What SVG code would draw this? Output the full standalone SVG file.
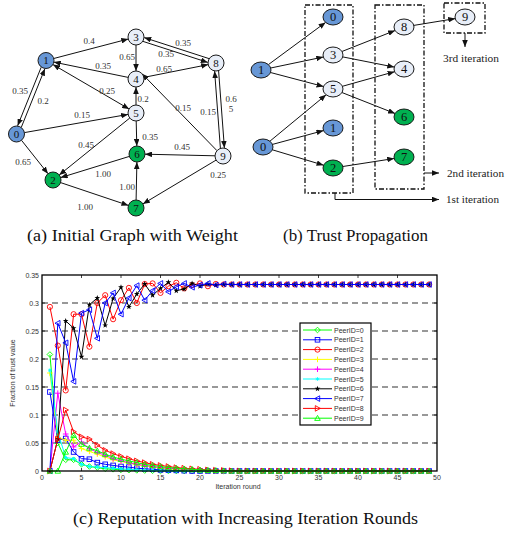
<svg xmlns="http://www.w3.org/2000/svg" width="505" height="535" viewBox="0 0 505 535">
<style>
.nd{stroke:#1a1a1a;stroke-width:1}
.bl{fill:#6797d6}
.gr{fill:#00b050}
.lt{fill:#e8eef8}
.nt{font-family:"Liberation Serif",serif;font-size:11px;text-anchor:middle;fill:#111}
.nt2{font-family:"Liberation Serif",serif;font-size:12.5px;text-anchor:middle;fill:#111}
.wl{font-family:"Liberation Serif",serif;font-size:9px;text-anchor:middle;fill:#333}
.e{stroke:#111;stroke-width:1;fill:none;marker-end:url(#ah)}
.e2{stroke:#111;stroke-width:1;fill:none;marker-end:url(#ah);marker-start:url(#ahs)}
.box{fill:none;stroke:#111;stroke-width:1.3;stroke-dasharray:5 2 1.5 2}
.it{font-family:"Liberation Serif",serif;font-size:10.5px;fill:#222}
.cap{font-family:"Liberation Serif",serif;font-size:17.5px;fill:#111}
.tk{font-family:"Liberation Sans",Arial,sans-serif;font-size:7px;fill:#333}
.grid{stroke:#777;stroke-width:1.3;stroke-dasharray:6 4}
.tick{stroke:#111;stroke-width:0.8}
.s{fill:none;stroke-width:1}
.lg{font-family:"Liberation Sans",Arial,sans-serif;font-size:7px;fill:#333}
</style>
<defs>
<marker id="ah" viewBox="0 0 10 8" refX="10" refY="4" markerWidth="7" markerHeight="5.6" orient="auto" markerUnits="userSpaceOnUse" preserveAspectRatio="none"><path d="M0,0L10,4L0,8Z" fill="#111"/></marker>
<marker id="ahs" viewBox="0 0 10 8" refX="10" refY="4" markerWidth="7" markerHeight="5.6" orient="auto-start-reverse" markerUnits="userSpaceOnUse" preserveAspectRatio="none"><path d="M0,0L10,4L0,8Z" fill="#111"/></marker>
<marker id="m0" viewBox="-5 -5 10 10" markerWidth="10" markerHeight="10" markerUnits="userSpaceOnUse" overflow="visible"><path d="M0,-2.8L2.8,0L0,2.8L-2.8,0Z" fill="none" stroke="#00ff00" stroke-width="0.9"/></marker>
<marker id="m1" viewBox="-5 -5 10 10" markerWidth="10" markerHeight="10" markerUnits="userSpaceOnUse" overflow="visible"><rect x="-2.3" y="-2.3" width="4.6" height="4.6" fill="none" stroke="#0000ff" stroke-width="0.9"/></marker>
<marker id="m2" viewBox="-5 -5 10 10" markerWidth="10" markerHeight="10" markerUnits="userSpaceOnUse" overflow="visible"><circle r="2.6" fill="none" stroke="#ff0000" stroke-width="0.9"/></marker>
<marker id="m3" viewBox="-5 -5 10 10" markerWidth="10" markerHeight="10" markerUnits="userSpaceOnUse" overflow="visible"><path d="M-2.8,0H2.8M0,-2.8V2.8" stroke="#ffff00" stroke-width="1"/></marker>
<marker id="m4" viewBox="-5 -5 10 10" markerWidth="10" markerHeight="10" markerUnits="userSpaceOnUse" overflow="visible"><path d="M-2.8,0H2.8M0,-2.8V2.8" stroke="#ff00ff" stroke-width="1"/></marker>
<marker id="m5" viewBox="-5 -5 10 10" markerWidth="10" markerHeight="10" markerUnits="userSpaceOnUse" overflow="visible"><path d="M-1.8,0H1.8M0,-1.8V1.8M-1.3,-1.3L1.3,1.3M-1.3,1.3L1.3,-1.3" stroke="#00ffff" stroke-width="0.9"/></marker>
<marker id="m6" viewBox="-5 -5 10 10" markerWidth="10" markerHeight="10" markerUnits="userSpaceOnUse" overflow="visible"><polygon points="0,-3 0.71,-0.97 2.85,-0.93 1.14,0.37 1.76,2.43 0,1.2 -1.76,2.43 -1.14,0.37 -2.85,-0.93 -0.71,-0.97" fill="#000"/></marker>
<marker id="m7" viewBox="-5 -5 10 10" markerWidth="10" markerHeight="10" markerUnits="userSpaceOnUse" overflow="visible"><path d="M-2.8,0L2.2,-2.8L2.2,2.8Z" fill="none" stroke="#0000ff" stroke-width="0.9"/></marker>
<marker id="m8" viewBox="-5 -5 10 10" markerWidth="10" markerHeight="10" markerUnits="userSpaceOnUse" overflow="visible"><path d="M2.8,0L-2.2,-2.8L-2.2,2.8Z" fill="none" stroke="#ff0000" stroke-width="0.9"/></marker>
<marker id="m9" viewBox="-5 -5 10 10" markerWidth="10" markerHeight="10" markerUnits="userSpaceOnUse" overflow="visible"><path d="M0,-2.8L2.8,2.2L-2.8,2.2Z" fill="none" stroke="#00ff00" stroke-width="0.9"/></marker>
</defs>
<rect width="505" height="535" fill="#fff"/>

<!-- Panel (a) connectors -->
<g id="edges-a">
<line class="e" x1="53.7" y1="58.5" x2="128.3" y2="39"/>
<line class="e" x1="128.2" y1="77.4" x2="53.8" y2="62.1"/>
<line class="e2" x1="52.9" y1="64.5" x2="129.1" y2="109"/>
<line class="e" x1="41.2" y1="67.2" x2="17.6" y2="125.8"/>
<line class="e" x1="21.3" y1="127.3" x2="44.9" y2="68.7"/>
<line class="e" x1="24.4" y1="132.6" x2="128.1" y2="114.4"/>
<line class="e" x1="21.5" y1="140.3" x2="48" y2="173.7"/>
<line class="e" x1="129.8" y1="118" x2="59.2" y2="175"/>
<line class="e" x1="129.4" y1="156.4" x2="60.6" y2="177.6"/>
<line class="e" x1="60.6" y1="182.6" x2="128.4" y2="205.4"/>
<line class="e" x1="136.1" y1="200" x2="136.9" y2="162"/>
<line class="e" x1="136.2" y1="121" x2="136.8" y2="146"/>
<line class="e" x1="215" y1="155.8" x2="145" y2="154.2"/>
<line class="e" x1="216.1" y1="160.1" x2="142.9" y2="203.9"/>
<line class="e" x1="217" y1="150.7" x2="142" y2="73.7"/>
<line class="e" x1="136" y1="105" x2="136" y2="87"/>
<line class="e" x1="136" y1="45" x2="136" y2="71"/>
<line class="e" x1="143.8" y1="77.4" x2="208.2" y2="64.6"/>
<line class="e" x1="209" y1="58.6" x2="144.2" y2="37.6"/>
<line class="e" x1="143" y1="41.4" x2="207.8" y2="62.4"/>
<line class="e" x1="220.4" y1="148.2" x2="214.6" y2="71.1"/>
<line class="e" x1="218.6" y1="70.8" x2="224.4" y2="147.9"/>
</g>
<g id="weights-a">
<text class="wl" x="89" y="44">0.4</text>
<text class="wl" x="103" y="69">0.35</text>
<text class="wl" x="107" y="94">0.25</text>
<text class="wl" x="20" y="94">0.35</text>
<text class="wl" x="43" y="104">0.2</text>
<text class="wl" x="82" y="118">0.15</text>
<text class="wl" x="127" y="60">0.65</text>
<text class="wl" x="183" y="46">0.35</text>
<text class="wl" x="166" y="57">0.35</text>
<text class="wl" x="164" y="72">0.65</text>
<text class="wl" x="143" y="102">0.2</text>
<text class="wl" x="183" y="111">0.15</text>
<text class="wl" x="208" y="115">0.15</text>
<text class="wl" x="231" y="102">0.6</text>
<text class="wl" x="231" y="112">5</text>
<text class="wl" x="86" y="148">0.45</text>
<text class="wl" x="23" y="165">0.65</text>
<text class="wl" x="103" y="177">1.00</text>
<text class="wl" x="85" y="210">1.00</text>
<text class="wl" x="150" y="140">0.35</text>
<text class="wl" x="182" y="150">0.45</text>
<text class="wl" x="218" y="178">0.25</text>
<text class="wl" x="127" y="190">1.00</text>
</g>
<g id="a-n0"><circle class="nd bl" cx="16.5" cy="134" r="8"/><text class="nt" x="16.5" y="137.8">0</text></g>
<g id="a-n1"><circle class="nd bl" cx="46" cy="60.5" r="8"/><text class="nt" x="46" y="64.3">1</text></g>
<g id="a-n2"><circle class="nd gr" cx="53" cy="180" r="8"/><text class="nt" x="53" y="183.8">2</text></g>
<g id="a-n3"><circle class="nd lt" cx="136" cy="37" r="8"/><text class="nt" x="136" y="40.8">3</text></g>
<g id="a-n4"><circle class="nd lt" cx="136" cy="79" r="8"/><text class="nt" x="136" y="82.8">4</text></g>
<g id="a-n5"><circle class="nd lt" cx="136" cy="113" r="8"/><text class="nt" x="136" y="116.8">5</text></g>
<g id="a-n6"><circle class="nd gr" cx="137" cy="154" r="8"/><text class="nt" x="137" y="157.8">6</text></g>
<g id="a-n7"><circle class="nd gr" cx="136" cy="208" r="8"/><text class="nt" x="136" y="211.8">7</text></g>
<g id="a-n8"><circle class="nd lt" cx="216" cy="63" r="8"/><text class="nt" x="216" y="66.8">8</text></g>
<g id="a-n9"><circle class="nd lt" cx="223" cy="156" r="8"/><text class="nt" x="223" y="159.8">9</text></g>

<!-- Panel (b) -->
<g id="boxes-b">
<rect class="box" x="305" y="5" width="48" height="188"/>
<rect class="box" x="375" y="5" width="49" height="184"/>
<rect class="box" x="444" y="3" width="41" height="30"/>
</g>
<g id="edges-b">
<line class="e" x1="268.4" y1="64.6" x2="325.6" y2="22.4"/>
<line class="e" x1="270.7" y1="68" x2="323.3" y2="57"/>
<line class="e" x1="270.5" y1="72.5" x2="323.5" y2="86.5"/>
<line class="e" x1="269.9" y1="141.2" x2="326.1" y2="94.8"/>
<line class="e" x1="272.5" y1="144.4" x2="323.5" y2="130.6"/>
<line class="e" x1="272.4" y1="149.8" x2="323.6" y2="165.2"/>
<line class="e" x1="341.9" y1="51.5" x2="395.1" y2="30.5"/>
<line class="e" x1="342.7" y1="56.9" x2="394.3" y2="67.1"/>
<line class="e" x1="342.4" y1="86.3" x2="394.6" y2="71.7"/>
<line class="e" x1="341.9" y1="92.5" x2="395.1" y2="113.5"/>
<line class="e" x1="342.8" y1="166.5" x2="394.2" y2="158.5"/>
<line class="e" x1="413.8" y1="25.4" x2="455.2" y2="18.6"/>
<line class="e" x1="465" y1="33" x2="465" y2="47"/>
<line class="e" x1="424" y1="173" x2="439" y2="173"/>
<polyline class="e" points="335,193 335,199.5 439,199.5"/>
</g>
<g id="b-n1"><ellipse class="nd bl" cx="261" cy="70" rx="10" ry="8"/><text class="nt2" x="261" y="74.3">1</text></g>
<g id="b-n0"><ellipse class="nd bl" cx="263" cy="147" rx="10" ry="8"/><text class="nt2" x="263" y="151.3">0</text></g>
<g id="b-c0"><ellipse class="nd bl" cx="333" cy="17" rx="10" ry="8"/><text class="nt2" x="333" y="21.3">0</text></g>
<g id="b-c3"><ellipse class="nd lt" cx="333" cy="55" rx="10" ry="8"/><text class="nt2" x="333" y="59.3">3</text></g>
<g id="b-c5"><ellipse class="nd lt" cx="333" cy="89" rx="10" ry="8"/><text class="nt2" x="333" y="93.3">5</text></g>
<g id="b-c1"><ellipse class="nd bl" cx="333" cy="128" rx="10" ry="8"/><text class="nt2" x="333" y="132.3">1</text></g>
<g id="b-c2"><ellipse class="nd gr" cx="333" cy="168" rx="10" ry="8"/><text class="nt2" x="333" y="172.3">2</text></g>
<g id="b-d8"><ellipse class="nd lt" cx="404" cy="27" rx="10" ry="8"/><text class="nt2" x="404" y="31.3">8</text></g>
<g id="b-d4"><ellipse class="nd lt" cx="404" cy="69" rx="10" ry="8"/><text class="nt2" x="404" y="73.3">4</text></g>
<g id="b-d6"><ellipse class="nd gr" cx="404" cy="117" rx="10" ry="8"/><text class="nt2" x="404" y="121.3">6</text></g>
<g id="b-d7"><ellipse class="nd gr" cx="404" cy="157" rx="10" ry="8"/><text class="nt2" x="404" y="161.3">7</text></g>
<g id="b-e9"><ellipse class="nd lt" cx="465" cy="17" rx="10" ry="8"/><text class="nt2" x="465" y="21.3">9</text></g>
<text class="it" x="443" y="61.5" textLength="56" lengthAdjust="spacingAndGlyphs">3rd iteration</text>
<text class="it" x="447" y="176.5" textLength="57" lengthAdjust="spacingAndGlyphs">2nd iteration</text>
<text class="it" x="446" y="203" textLength="53" lengthAdjust="spacingAndGlyphs">1st iteration</text>

<!-- captions -->
<text class="cap" x="27" y="241" textLength="211" lengthAdjust="spacingAndGlyphs">(a) Initial Graph with Weight</text>
<text class="cap" x="283" y="241" textLength="145" lengthAdjust="spacingAndGlyphs">(b) Trust Propagation</text>
<text class="cap" x="73" y="524" textLength="345" lengthAdjust="spacingAndGlyphs">(c) Reputation with Increasing Iteration Rounds</text>

<!-- Chart -->
<g id="grid">
<line class="grid" x1="42" y1="443" x2="437" y2="443"/>
<line class="grid" x1="42" y1="415" x2="437" y2="415"/>
<line class="grid" x1="42" y1="387" x2="437" y2="387"/>
<line class="grid" x1="42" y1="359" x2="437" y2="359"/>
<line class="grid" x1="42" y1="331" x2="437" y2="331"/>
<line class="grid" x1="42" y1="303" x2="437" y2="303"/>
</g>
<g id="ticks">
<path class="tick" d="M81.5,471v-3M121,471v-3M160.5,471v-3M200,471v-3M239.5,471v-3M279,471v-3M318.5,471v-3M358,471v-3M397.5,471v-3M81.5,275v3M121,275v3M160.5,275v3M200,275v3M239.5,275v3M279,275v3M318.5,275v3M358,275v3M397.5,275v3M42,443h3M42,415h3M42,387h3M42,359h3M42,331h3M42,303h3M437,443h-3M437,415h-3M437,387h-3M437,359h-3M437,331h-3M437,303h-3"/>
</g>
<g id="yticks" class="tk" text-anchor="end">
<text x="39" y="277.5">0.35</text>
<text x="39" y="305.5">0.3</text>
<text x="39" y="333.5">0.25</text>
<text x="39" y="361.5">0.2</text>
<text x="39" y="389.5">0.15</text>
<text x="39" y="417.5">0.1</text>
<text x="39" y="445.5">0.05</text>
<text x="39" y="473.5">0</text>
</g>
<g id="xticks" class="tk" text-anchor="middle">
<text x="42" y="480">0</text>
<text x="81.5" y="480">5</text>
<text x="121" y="480">10</text>
<text x="160.5" y="480">15</text>
<text x="200" y="480">20</text>
<text x="239.5" y="480">25</text>
<text x="279" y="480">30</text>
<text x="318.5" y="480">35</text>
<text x="358" y="480">40</text>
<text x="397.5" y="480">45</text>
<text x="437" y="480">50</text>
</g>
<text class="tk" x="238" y="489" text-anchor="middle" font-size="6.5">Iteration round</text>
<text class="tk" x="15" y="373" text-anchor="middle" font-size="6.5" transform="rotate(-90 15 373)">Fraction of trust value</text>

<g id="series">
<polyline class="s" stroke="#00ff00" marker-start="url(#m0)" marker-mid="url(#m0)" marker-end="url(#m0)" points="49.9,354.5 57.8,443 65.7,459.8 73.6,459.8 81.5,464.3 89.4,466.5 97.3,467.6 105.2,468.8 113.1,469.3 121,469.9 128.9,470.2 136.8,470.4 144.7,470.6 152.6,470.8 160.5,471 168.4,471 176.3,471 184.2,471 192.1,471 200,471 207.9,471 215.8,471 223.7,471 231.6,471 239.5,471 247.4,471 255.3,471 263.2,471 271.1,471 279,471 286.9,471 294.8,471 302.7,471 310.6,471 318.5,471 326.4,471 334.3,471 342.2,471 350.1,471 358,471 365.9,471 373.8,471 381.7,471 389.6,471 397.5,471 405.4,471 413.3,471 421.2,471 429.1,471"/>
<polyline class="s" stroke="#0000ff" marker-start="url(#m1)" marker-mid="url(#m1)" marker-end="url(#m1)" points="49.9,392 57.8,440.2 65.7,438.5 73.6,452 81.5,458.7 89.4,459.2 97.3,462.6 105.2,464.3 113.1,465.4 121,466.5 128.9,467.1 136.8,468.2 144.7,468.8 152.6,469.3 160.5,469.9 168.4,470.2 176.3,470.4 184.2,470.7 192.1,471 200,471 207.9,471 215.8,471 223.7,471 231.6,471 239.5,471 247.4,471 255.3,471 263.2,471 271.1,471 279,471 286.9,471 294.8,471 302.7,471 310.6,471 318.5,471 326.4,471 334.3,471 342.2,471 350.1,471 358,471 365.9,471 373.8,471 381.7,471 389.6,471 397.5,471 405.4,471 413.3,471 421.2,471 429.1,471"/>
<polyline class="s" stroke="#ff0000" marker-start="url(#m2)" marker-mid="url(#m2)" marker-end="url(#m2)" points="49.9,306.9 57.8,345.6 65.7,390.4 73.6,314.2 81.5,314.2 89.4,346.7 97.3,303 105.2,295.2 113.1,319.2 121,300.2 128.9,287.9 136.8,303 144.7,284 152.6,283.4 160.5,292.9 168.4,286.2 176.3,282.8 184.2,288.4 192.1,285.1 200,283.4 207.9,286.2 215.8,284 223.7,284.5 231.6,284.5 239.5,284.5 247.4,284.5 255.3,284.5 263.2,284.5 271.1,284.5 279,284.5 286.9,284.5 294.8,284.5 302.7,284.5 310.6,284.5 318.5,284.5 326.4,284.5 334.3,284.5 342.2,284.5 350.1,284.5 358,284.5 365.9,284.5 373.8,284.5 381.7,284.5 389.6,284.5 397.5,284.5 405.4,284.5 413.3,284.5 421.2,284.5 429.1,284.5"/>
<polyline class="s" stroke="#ffff00" marker-start="url(#m3)" marker-mid="url(#m3)" marker-end="url(#m3)" points="49.9,373 57.8,437.4 65.7,440.2 73.6,440.2 81.5,448.6 89.4,451.4 97.3,454.2 105.2,457 113.1,459.8 121,461.5 128.9,463.2 136.8,464.8 144.7,466 152.6,467.1 160.5,468.2 168.4,468.8 176.3,469.3 184.2,469.9 192.1,470.2 200,470.4 207.9,470.7 215.8,471 223.7,471 231.6,471 239.5,471 247.4,471 255.3,471 263.2,471 271.1,471 279,471 286.9,471 294.8,471 302.7,471 310.6,471 318.5,471 326.4,471 334.3,471 342.2,471 350.1,471 358,471 365.9,471 373.8,471 381.7,471 389.6,471 397.5,471 405.4,471 413.3,471 421.2,471 429.1,471"/>
<polyline class="s" stroke="#ff00ff" marker-start="url(#m4)" marker-mid="url(#m4)" marker-end="url(#m4)" points="49.9,471 57.8,393.2 65.7,434 73.6,446.9 81.5,441.9 89.4,448.6 97.3,452.5 105.2,455.3 113.1,458.7 121,460.9 128.9,462.6 136.8,464.3 144.7,465.4 152.6,466.5 160.5,467.6 168.4,468.2 176.3,468.8 184.2,469.3 192.1,469.9 200,470.2 207.9,470.4 215.8,470.7 223.7,471 231.6,471 239.5,471 247.4,471 255.3,471 263.2,471 271.1,471 279,471 286.9,471 294.8,471 302.7,471 310.6,471 318.5,471 326.4,471 334.3,471 342.2,471 350.1,471 358,471 365.9,471 373.8,471 381.7,471 389.6,471 397.5,471 405.4,471 413.3,471 421.2,471 429.1,471"/>
<polyline class="s" stroke="#00ffff" marker-start="url(#m5)" marker-mid="url(#m5)" marker-end="url(#m5)" points="49.9,370.2 57.8,431.8 65.7,457.6 73.6,458.7 81.5,464.3 89.4,466.5 97.3,467.1 105.2,467.6 113.1,468.2 121,468.8 128.9,469.3 136.8,469.9 144.7,470.2 152.6,470.4 160.5,470.7 168.4,471 176.3,471 184.2,471 192.1,471 200,471 207.9,471 215.8,471 223.7,471 231.6,471 239.5,471 247.4,471 255.3,471 263.2,471 271.1,471 279,471 286.9,471 294.8,471 302.7,471 310.6,471 318.5,471 326.4,471 334.3,471 342.2,471 350.1,471 358,471 365.9,471 373.8,471 381.7,471 389.6,471 397.5,471 405.4,471 413.3,471 421.2,471 429.1,471"/>
<polyline class="s" stroke="#000000" marker-start="url(#m6)" marker-mid="url(#m6)" marker-end="url(#m6)" points="49.9,471 57.8,439.1 65.7,320.9 73.6,328.2 81.5,356.8 89.4,304.7 97.3,298 105.2,325.4 113.1,298.5 121,287.3 128.9,306.9 136.8,294 144.7,284 152.6,295.2 160.5,288.4 168.4,282.3 176.3,290.7 184.2,289 192.1,283.4 200,286.2 207.9,284 215.8,285 223.7,284.5 231.6,284.5 239.5,284.5 247.4,284.5 255.3,284.5 263.2,284.5 271.1,284.5 279,284.5 286.9,284.5 294.8,284.5 302.7,284.5 310.6,284.5 318.5,284.5 326.4,284.5 334.3,284.5 342.2,284.5 350.1,284.5 358,284.5 365.9,284.5 373.8,284.5 381.7,284.5 389.6,284.5 397.5,284.5 405.4,284.5 413.3,284.5 421.2,284.5 429.1,284.5"/>
<polyline class="s" stroke="#0000ff" marker-start="url(#m7)" marker-mid="url(#m7)" marker-end="url(#m7)" points="49.9,471 57.8,323.2 65.7,342.8 73.6,381.4 81.5,313.1 89.4,309.7 97.3,338.3 105.2,303 113.1,292.9 121,314.2 128.9,298 136.8,285.6 144.7,300.2 152.6,290.7 160.5,283.4 168.4,291.8 176.3,286.8 184.2,283.4 192.1,287.3 200,285 207.9,283.4 215.8,285 223.7,284 231.6,284.5 239.5,284.5 247.4,284.5 255.3,284.5 263.2,284.5 271.1,284.5 279,284.5 286.9,284.5 294.8,284.5 302.7,284.5 310.6,284.5 318.5,284.5 326.4,284.5 334.3,284.5 342.2,284.5 350.1,284.5 358,284.5 365.9,284.5 373.8,284.5 381.7,284.5 389.6,284.5 397.5,284.5 405.4,284.5 413.3,284.5 421.2,284.5 429.1,284.5"/>
<polyline class="s" stroke="#ff0000" marker-start="url(#m8)" marker-mid="url(#m8)" marker-end="url(#m8)" points="49.9,471 57.8,439.1 65.7,410 73.6,431.8 81.5,436.8 89.4,439.1 97.3,445.2 105.2,450.3 113.1,453.6 121,456.4 128.9,458.7 136.8,460.9 144.7,462.6 152.6,464.3 160.5,465.4 168.4,466.5 176.3,467.6 184.2,468.2 192.1,468.8 200,469.3 207.9,469.9 215.8,470.2 223.7,470.4 231.6,470.7 239.5,471 247.4,471 255.3,471 263.2,471 271.1,471 279,471 286.9,471 294.8,471 302.7,471 310.6,471 318.5,471 326.4,471 334.3,471 342.2,471 350.1,471 358,471 365.9,471 373.8,471 381.7,471 389.6,471 397.5,471 405.4,471 413.3,471 421.2,471 429.1,471"/>
<polyline class="s" stroke="#00ff00" marker-start="url(#m9)" marker-mid="url(#m9)" marker-end="url(#m9)" points="49.9,471 57.8,471 65.7,452 73.6,435.2 81.5,444.1 89.4,448 97.3,450.8 105.2,454.2 113.1,457 121,459.2 128.9,460.9 136.8,462.6 144.7,464.3 152.6,465.4 160.5,466.5 168.4,467.6 176.3,468.2 184.2,468.8 192.1,469.3 200,469.9 207.9,470.2 215.8,470.4 223.7,470.7 231.6,471 239.5,471 247.4,471 255.3,471 263.2,471 271.1,471 279,471 286.9,471 294.8,471 302.7,471 310.6,471 318.5,471 326.4,471 334.3,471 342.2,471 350.1,471 358,471 365.9,471 373.8,471 381.7,471 389.6,471 397.5,471 405.4,471 413.3,471 421.2,471 429.1,471"/>
</g>
<rect x="42" y="275" width="395" height="196" fill="none" stroke="#000" stroke-width="1.3"/>

<g id="legend">
<rect x="300" y="323" width="71" height="102" fill="#fff" stroke="#000" stroke-width="1.2"/>
<polyline class="s" stroke="#00ff00" marker-mid="url(#m0)" points="303,330 317.5,330 332,330"/>
<polyline class="s" stroke="#0000ff" marker-mid="url(#m1)" points="303,339.8 317.5,339.8 332,339.8"/>
<polyline class="s" stroke="#ff0000" marker-mid="url(#m2)" points="303,349.6 317.5,349.6 332,349.6"/>
<polyline class="s" stroke="#ffff00" marker-mid="url(#m3)" points="303,359.4 317.5,359.4 332,359.4"/>
<polyline class="s" stroke="#ff00ff" marker-mid="url(#m4)" points="303,369.2 317.5,369.2 332,369.2"/>
<polyline class="s" stroke="#00ffff" marker-mid="url(#m5)" points="303,379 317.5,379 332,379"/>
<polyline class="s" stroke="#000000" marker-mid="url(#m6)" points="303,388.8 317.5,388.8 332,388.8"/>
<polyline class="s" stroke="#0000ff" marker-mid="url(#m7)" points="303,398.6 317.5,398.6 332,398.6"/>
<polyline class="s" stroke="#ff0000" marker-mid="url(#m8)" points="303,408.4 317.5,408.4 332,408.4"/>
<polyline class="s" stroke="#00ff00" marker-mid="url(#m9)" points="303,418.2 317.5,418.2 332,418.2"/>
<text class="lg" x="334" y="332.5">PeerID=0</text>
<text class="lg" x="334" y="342.3">PeerID=1</text>
<text class="lg" x="334" y="352.1">PeerID=2</text>
<text class="lg" x="334" y="361.9">PeerID=3</text>
<text class="lg" x="334" y="371.7">PeerID=4</text>
<text class="lg" x="334" y="381.5">PeerID=5</text>
<text class="lg" x="334" y="391.3">PeerID=6</text>
<text class="lg" x="334" y="401.1">PeerID=7</text>
<text class="lg" x="334" y="410.9">PeerID=8</text>
<text class="lg" x="334" y="420.7">PeerID=9</text>
</g>
</svg>
